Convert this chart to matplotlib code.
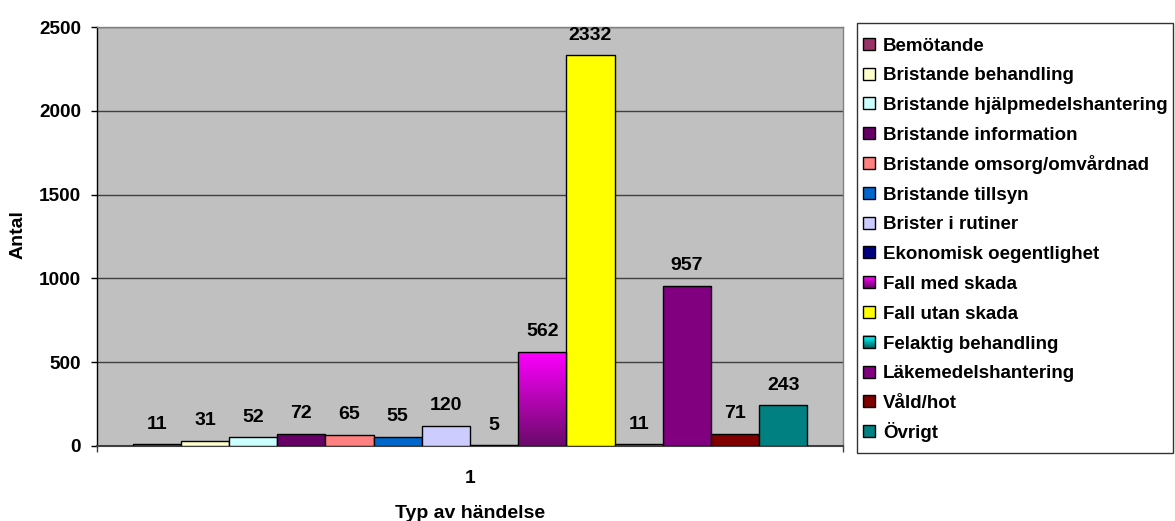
import numpy as np
import matplotlib
matplotlib.use("Agg")
import matplotlib.pyplot as plt
from matplotlib.patches import Rectangle
from matplotlib.legend_handler import HandlerBase
from matplotlib.colors import LinearSegmentedColormap, to_rgb

plt.rcParams['font.family'] = ['Liberation Sans', 'DejaVu Sans']
plt.rcParams['font.weight'] = 'bold'

categories = [
    "Bemötande", "Bristande behandling", "Bristande hjälpmedelshantering",
    "Bristande information", "Bristande omsorg/omvårdnad", "Bristande tillsyn",
    "Brister i rutiner", "Ekonomisk oegentlighet", "Fall med skada",
    "Fall utan skada", "Felaktig behandling", "Läkemedelshantering",
    "Våld/hot", "Övrigt",
]
values = [11, 31, 52, 72, 65, 55, 120, 5, 562, 2332, 11, 957, 71, 243]
colors = [
    "#993366", "#FFFFCC", "#CCFFFF", "#660066", "#FF8080", "#0066CC",
    "#CCCCFF", "#000080", "#FF00FF", "#FFFF00", "#00FFFF", "#800080",
    "#800000", "#008080",
]
# series drawn with a vertical fade: (top colour, bottom colour)
gradients = {
    "Fall med skada": ("#FF00FF", "#6A0A6A"),
    "Felaktig behandling": ("#00FFFF", "#006060"),
}
yticks = [0, 500, 1000, 1500, 2000, 2500]
xtick_label = "1"

W, H = 1175, 521
fig = plt.figure(figsize=(W / 100, H / 100), dpi=100)
ax = fig.add_axes([97 / W, 1 - 446 / H, (843 - 97) / W, (446 - 27) / H])
ax.set_facecolor("#C0C0C0")

n = len(values)
bw = 0.0646
lefts = 0.5 - n * bw / 2 + np.arange(n) * bw
bars = ax.bar(lefts, values, width=bw, align="edge", color=colors,
              edgecolor="black", linewidth=1.0, zorder=3)

for name, bar in zip(categories, bars):
    if name in gradients:
        top, bot = gradients[name]
        cmap = LinearSegmentedColormap.from_list(name, [bot, top])
        grad = np.linspace(0, 1, 256).reshape(-1, 1)
        x0, w, h = bar.get_x(), bar.get_width(), bar.get_height()
        im = ax.imshow(grad, cmap=cmap, origin="lower", aspect="auto",
                       extent=[x0, x0 + w, 0, h], zorder=3.5,
                       interpolation="bilinear")
        im.set_clip_path(bar)
        bar.set_facecolor("none")
        bar.set_zorder(4)

for bar, v in zip(bars, values):
    ax.annotate(str(v), (bar.get_x() + bar.get_width() / 2, v),
                xytext=(0, 14.5), textcoords="offset points",
                ha="center", va="center", fontsize=14, fontweight="bold")

ax.set_xlim(0, 1)
ax.set_ylim(0, 2500)
ax.set_yticks(yticks)
ax.set_yticklabels([str(t) for t in yticks])
ax.yaxis.grid(True, color="#404040", linewidth=1.0, zorder=1)
ax.set_axisbelow(True)
ax.tick_params(axis="y", direction="out", length=4.5, width=1, color="black",
               labelsize=13.7, pad=7)

ax.set_xticks([0.5])
ax.set_xticklabels([xtick_label])
ax.set_xticks([0, 1], minor=True)
ax.tick_params(axis="x", which="major", length=0, pad=17, labelsize=13.7)
ax.tick_params(axis="x", which="minor", direction="out", length=4.5, width=1,
               color="#404040")

for s in ("top", "right"):
    ax.spines[s].set_color("#808080")
    ax.spines[s].set_linewidth(1.0)
ax.spines["left"].set_color("black")
ax.spines["left"].set_linewidth(1.0)
ax.spines["bottom"].set_color("#404040")
ax.spines["bottom"].set_linewidth(1.5)

fig.text(18 / W, 1 - 235 / H, "Antal", rotation=90, ha="center", va="center",
         fontsize=14, fontweight="bold")
fig.text(470 / W, 1 - 513 / H, "Typ av händelse", ha="center", va="center",
         fontsize=14, fontweight="bold")

SWATCH = 0.64   # swatch side, in units of the legend font size
CAPMID = 0.36   # height of the cap middle above the baseline, same units


def swatch_origin(width, fontsize):
    size = SWATCH * fontsize
    return width - size, CAPMID * fontsize - size / 2, size


class GradientHandler(HandlerBase):
    def __init__(self, top, bot, **kw):
        super().__init__(**kw)
        self.top, self.bot = np.array(to_rgb(top)), np.array(to_rgb(bot))

    def create_artists(self, legend, orig_handle, xdescent, ydescent, width,
                       height, fontsize, trans):
        x0, y0, size = swatch_origin(width, fontsize)
        x0 -= xdescent
        arts = []
        steps = 12
        for k in range(steps):
            f = k / (steps - 1)
            c = self.bot * (1 - f) + self.top * f
            arts.append(Rectangle((x0, y0 + k * size / steps), size,
                                  size / steps + 0.2, facecolor=c,
                                  edgecolor="none", transform=trans))
        arts.append(Rectangle((x0, y0), size, size, facecolor="none",
                              edgecolor="black", linewidth=1.0,
                              transform=trans))
        return arts


class SquareHandler(HandlerBase):
    def create_artists(self, legend, orig_handle, xdescent, ydescent, width,
                       height, fontsize, trans):
        x0, y0, size = swatch_origin(width, fontsize)
        x0 -= xdescent
        r = Rectangle((x0, y0), size, size,
                      facecolor=orig_handle.get_facecolor(),
                      edgecolor="black", linewidth=1.0, transform=trans)
        return [r]


handles = [Rectangle((0, 0), 1, 1, facecolor=c) for c in colors]
handler_map = {}
for name, h in zip(categories, handles):
    if name in gradients:
        handler_map[h] = GradientHandler(*gradients[name])
    else:
        handler_map[h] = SquareHandler()

leg = fig.legend(handles, categories, loc="upper left",
                 bbox_to_anchor=(857 / W, 1 - 28 / H, (1173 - 857) / W, 0.01),
                 mode="expand", handler_map=handler_map,
                 handlelength=0.44, handleheight=1.59, handletextpad=0.43,
                 labelspacing=0.31, borderpad=0.52, borderaxespad=0,
                 fancybox=False, frameon=True,
                 prop={"weight": "bold", "size": 13.5})
leg.get_frame().set_edgecolor("black")
leg.get_frame().set_linewidth(1.0)

fig.savefig("out.png", dpi=100)
